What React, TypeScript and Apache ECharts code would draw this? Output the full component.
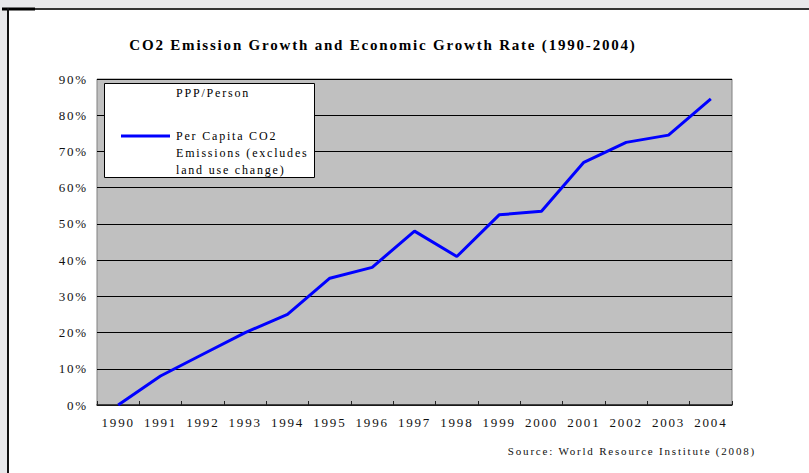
import React, { useEffect, useRef } from "react";
import * as echarts from "echarts";

const years = ["1990","1991","1992","1993","1994","1995","1996","1997","1998","1999","2000","2001","2002","2003","2004"];
const co2Growth = [0, 8, 14, 20, 25, 35, 38, 48, 41, 52.5, 53.5, 67, 72.5, 74.5, 84.5];
const yTicks = { min: 0, max: 90, interval: 10 };
const titleText = "CO2 Emission Growth and Economic Growth Rate (1990-2004)";
const legendHeader = "PPP/Person";
const legendLines = ["Per Capita CO2", "Emissions (excludes", "land use change)"];
const sourceText = "Source: World Resource Institute (2008)";

const FONT = "Liberation Serif";

export default function App() {
  const ref = useRef<HTMLDivElement>(null);
  useEffect(() => {
    if (!ref.current) return;
    const chart = echarts.init(ref.current, undefined, { renderer: "svg" });
    const gridLeft = 97, gridTop = 79, gridRight = 77, gridBottom = 68;
    chart.setOption({
      animation: false,
      backgroundColor: "#ffffff",
      textStyle: { fontFamily: FONT },
      grid: {
        left: gridLeft, top: gridTop, right: gridRight, bottom: gridBottom,
        show: true, backgroundColor: "#c0c0c0", borderColor: "#808080", borderWidth: 1,
      },
      xAxis: {
        type: "category",
        data: years,
        boundaryGap: true,
        axisLine: { show: true, lineStyle: { color: "#222", width: 1.5 } },
        axisTick: { show: true, inside: true, length: 4, alignWithLabel: false, lineStyle: { color: "#222" } },
        axisLabel: { color: "#111", fontSize: 13, fontFamily: FONT, margin: 11 },
        splitLine: { show: false },
      },
      yAxis: {
        type: "value",
        min: yTicks.min, max: yTicks.max, interval: yTicks.interval,
        axisLine: { show: false },
        axisTick: { show: false },
        axisLabel: { color: "#111", fontSize: 13, fontFamily: FONT, margin: 9, formatter: "{value}%" },
        splitLine: { show: true, lineStyle: { color: "#000", width: 1 } },
      },
      series: [
        {
          type: "line",
          name: legendLines.join(" "),
          data: co2Growth,
          showSymbol: false,
          symbol: "none",
          lineStyle: { color: "#0000ff", width: 3 },
          itemStyle: { color: "#0000ff" },
          z: 5,
        },
      ],
      graphic: [
        { type: "rect", shape: { x: 0, y: 0, width: 809, height: 8 }, style: { fill: "#e8e8ea" }, silent: true },
        { type: "rect", shape: { x: 0, y: 0, width: 7, height: 473 }, style: { fill: "#e8e8ea" }, silent: true },
        { type: "line", shape: { x1: 2, y1: 9, x2: 809, y2: 9 }, style: { stroke: "#333", lineWidth: 2 }, silent: true },
        { type: "line", shape: { x1: 2, y1: 9, x2: 35, y2: 9 }, style: { stroke: "#000", lineWidth: 3 }, silent: true },
        { type: "line", shape: { x1: 8, y1: 8, x2: 8, y2: 473 }, style: { stroke: "#111", lineWidth: 2 }, silent: true },
        {
          type: "text", x: 383, y: 45,
          style: { text: titleText, fontFamily: FONT, fontSize: 15, fontWeight: "bold", fill: "#000", align: "center", verticalAlign: "middle" },
        },
        { type: "rect", shape: { x: 104.5, y: 83.5, width: 210, height: 94 }, style: { fill: "#fff", stroke: "#000", lineWidth: 1 }, z: 10 },
        { type: "text", x: 176, y: 93, style: { text: legendHeader, fontFamily: FONT, fontSize: 12, fill: "#000", verticalAlign: "middle" }, z: 11 },
        { type: "line", shape: { x1: 121, y1: 136, x2: 170, y2: 136 }, style: { stroke: "#0000ff", lineWidth: 3 }, z: 11 },
        ...legendLines.map((t, i) => ({
          type: "text", x: 176, y: 136 + i * 17,
          style: { text: t, fontFamily: FONT, fontSize: 12, fill: "#000", verticalAlign: "middle" },
          z: 11,
        })),
        {
          type: "text", x: 756, y: 451,
          style: { text: sourceText, fontFamily: FONT, fontSize: 11, fill: "#111", align: "right", verticalAlign: "middle" },
        },
      ],
    });
    return () => chart.dispose();
  }, []);
  return (
    <div
      ref={ref}
      style={{ position: "fixed", left: 0, top: 0, width: 809, height: 473, letterSpacing: "1.8px" }}
    />
  );
}
